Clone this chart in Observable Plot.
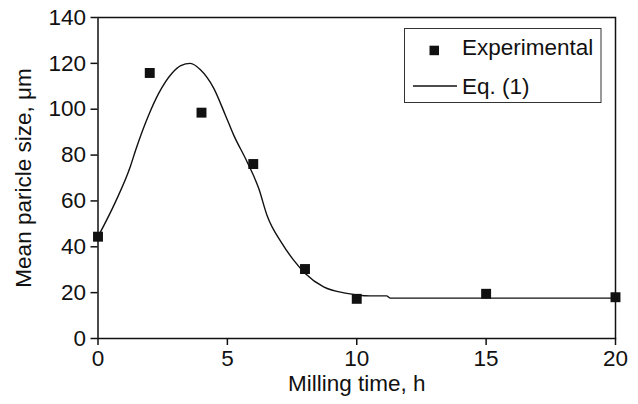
<!DOCTYPE html>
<html><head><meta charset="utf-8">
<script src="https://cdn.jsdelivr.net/npm/d3@7"></script>
<script src="https://cdn.jsdelivr.net/npm/@observablehq/plot@0.6"></script>
<style>
body{margin:0;background:#fff}
#chart svg{display:block}
</style>
</head><body><div id="chart"></div>
<script>
// Experimental points
const expTime = [0, 2, 4, 6, 8, 10, 15, 20];
const expSize = [44.4, 115.8, 98.5, 76.1, 30.3, 17.3, 19.5, 18.0];
// Eq. (1) fitted curve
const fitTime = [0, 0.68, 1.25, 1.45, 1.96, 2.35, 2.86, 3.2, 3.57, 3.96, 4.47, 4.92, 5.24, 5.76, 6.21, 6.53, 7.11, 7.56, 8.01, 8.72, 9.62, 10.5, 11.15, 11.3, 20];
const fitSize = [44.4, 59.7, 75, 82, 97.5, 107, 115.7, 119, 120, 117.2, 109.2, 97.5, 88.8, 77.1, 65.5, 53.8, 41.5, 34.2, 28.4, 22.5, 19.7, 18.6, 18.6, 17.6, 17.6];
const xTicks = [0, 5, 10, 15, 20];
const yTicks = [0, 20, 40, 60, 80, 100, 120, 140];
const seriesNames = ["Experimental", "Eq. (1)"];
const xLabel = "Milling time, h";
const yLabel = "Mean paricle size, \u03bcm";

const expData = expTime.map((t, i) => ({t, s: expSize[i]}));
const fitData = fitTime.map((t, i) => ({t, s: fitSize[i]}));
const ink = "#111";
const font = "'Liberation Sans', Arial, Helvetica, sans-serif";
const fs = 22.5;

const chart = Plot.plot({
  width: 638,
  height: 404,
  marginLeft: 97.5,
  marginRight: 23,
  marginTop: 17,
  marginBottom: 66,
  style: {fontFamily: font, fontSize: fs + "px", color: ink, background: "#fff"},
  x: {domain: [0, 20]},
  y: {domain: [0, 140]},
  marks: [
    Plot.frame({stroke: ink, strokeWidth: 1.5}),
    Plot.axisX({ticks: xTicks, tickSize: 7, tickPadding: 5, fontSize: fs, stroke: ink, strokeWidth: 1.5,
      label: xLabel, labelAnchor: "center", labelArrow: "none", labelOffset: 52}),
    Plot.axisY({ticks: yTicks, tickSize: 7, tickPadding: 5, fontSize: fs, stroke: ink, strokeWidth: 1.5,
      label: yLabel, labelAnchor: "center", labelArrow: "none", labelOffset: 83}),
    Plot.line(fitData, {x: "t", y: "s", stroke: ink, strokeWidth: 1.4, curve: "monotone-x"}),
    Plot.dot(expData, {x: "t", y: "s", symbol: "square", r: 5.6, fill: ink, stroke: "none"})
  ]
});
document.getElementById("chart").appendChild(chart);

// Legend box
const svg = d3.select(chart);
const lg = svg.append("g").attr("font-family", font).attr("font-size", fs).attr("fill", ink).attr("text-anchor", "start");
lg.append("rect").attr("x", 404.5).attr("y", 28.5).attr("width", 196.5).attr("height", 74).attr("fill", "#fff").attr("stroke", "#333").attr("stroke-width", 1);
lg.append("rect").attr("x", 429.5).attr("y", 45.7).attr("width", 9.5).attr("height", 9.5).attr("fill", ink);
lg.append("text").attr("x", 462).attr("y", 47).attr("dy", "0.35em").attr("text-anchor", "start").text(seriesNames[0]);
lg.append("line").attr("x1", 413).attr("x2", 457).attr("y1", 86).attr("y2", 86).attr("stroke", ink).attr("stroke-width", 1.4);
lg.append("text").attr("x", 462).attr("y", 86).attr("dy", "0.35em").attr("text-anchor", "start").text(seriesNames[1]);
</script>
</body></html>
